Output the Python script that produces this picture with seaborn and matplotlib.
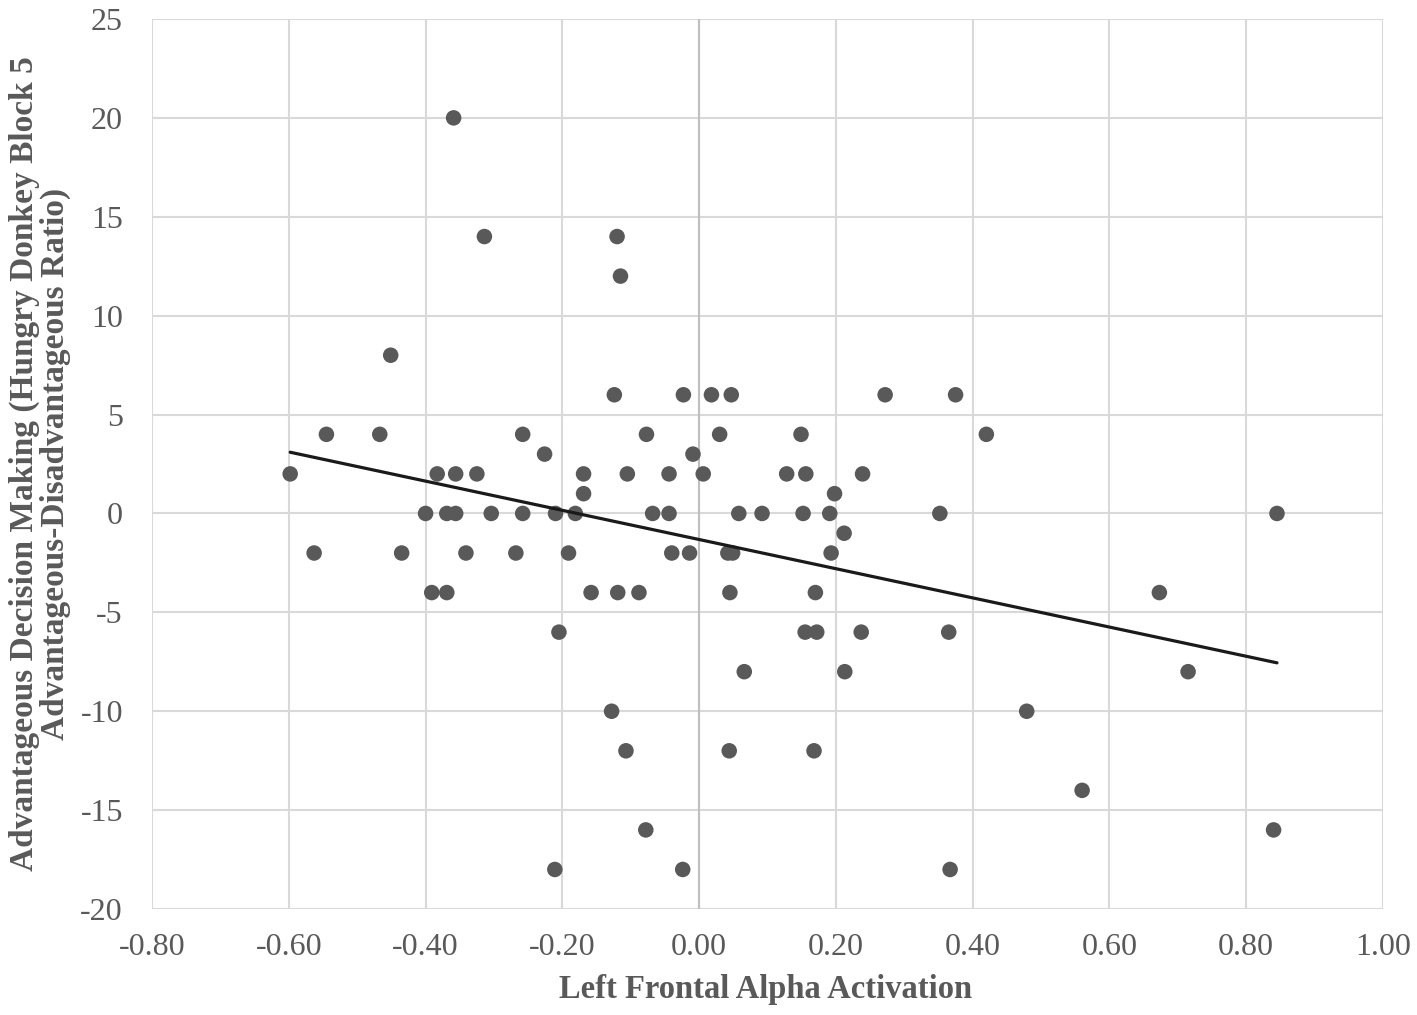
import pandas as pd
import seaborn as sns
import matplotlib.pyplot as plt

# Left frontal alpha activation (x) and advantageous decision score (y)
alpha = [-0.598, -0.563, -0.545, -0.467, -0.451, -0.435, -0.400, -0.391, -0.383, -0.369,
         -0.369, -0.359, -0.356, -0.356, -0.341, -0.325, -0.314, -0.304, -0.268, -0.258,
         -0.258, -0.226, -0.211, -0.210, -0.205, -0.191, -0.181, -0.169, -0.169, -0.158,
         -0.128, -0.124, -0.120, -0.119, -0.115, -0.107, -0.105, -0.088, -0.078, -0.077,
         -0.068, -0.044, -0.044, -0.040, -0.024, -0.023, -0.014, -0.009, 0.006, 0.018,
         0.030, 0.042, 0.049, 0.045, 0.044, 0.047, 0.058, 0.066, 0.092, 0.128,
         0.149, 0.152, 0.155, 0.156, 0.168, 0.170, 0.172, 0.191, 0.193, 0.198,
         0.212, 0.213, 0.237, 0.239, 0.272, 0.352, 0.365, 0.367, 0.375, 0.420,
         0.479, 0.560, 0.673, 0.715, 0.840, 0.845]
score = [2, -2, 4, 4, 8, -2, 0, -4, 2, 0,
         -4, 20, 2, 0, -2, 2, 14, 0, -2, 4,
         0, 3, -18, 0, -6, -2, 0, 2, 1, -4,
         -10, 6, 14, -4, 12, -12, 2, -4, -16, 4,
         0, 2, 0, -2, -18, 6, -2, 3, 2, 6,
         4, -2, -2, -4, -12, 6, 0, -8, 0, 2,
         4, 0, -6, 2, -12, -4, -6, 0, -2, 1,
         -1, -8, -6, 2, 6, 0, -6, -18, 6, 4,
         -10, -14, -4, -8, -16, 0]

x_ticks = [-0.8, -0.6, -0.4, -0.2, 0.0, 0.2, 0.4, 0.6, 0.8, 1.0]
y_ticks = [-20, -15, -10, -5, 0, 5, 10, 15, 20, 25]

df = pd.DataFrame({'alpha': alpha, 'score': score})

sns.set_style("white")
plt.rcParams['font.family'] = ['Liberation Serif', 'DejaVu Serif']

fig = plt.figure(figsize=(14.17, 10.15), dpi=100)
ax = fig.add_axes([0.1073, 0.1044, 0.8687, 0.8769])

# Gridlines like the spreadsheet chart
for xv in x_ticks:
    ax.axvline(xv, color='#d9d9d9', lw=1.5, zorder=0)
for yv in y_ticks:
    ax.axhline(yv, color='#d9d9d9', lw=1.5, zorder=0)
ax.axvline(0, color='#bfbfbf', lw=1.5, zorder=0)

sns.regplot(data=df, x='alpha', y='score', ci=None, ax=ax,
            scatter_kws={'s': 125, 'color': '#595959', 'edgecolor': 'none', 'alpha': 1, 'zorder': 3},
            line_kws={'color': '#1a1a1a', 'lw': 2.3, 'zorder': 4})

ax.set_xlim(-0.8, 1.0)
ax.set_ylim(-20, 25)
ax.set_xticks(x_ticks)
ax.set_xticklabels([f'{v:.2f}' for v in x_ticks])
ax.set_yticks(y_ticks)
ax.set_yticklabels([str(v) for v in y_ticks])
ax.tick_params(axis='both', length=0, labelsize=23, labelcolor='#595959')
ax.tick_params(axis='x', pad=17)
ax.tick_params(axis='y', pad=21)

for s in ax.spines.values():
    s.set_visible(False)

ax.set_xlabel('Left Frontal Alpha Activation', fontsize=23.5, fontweight='bold',
              color='#595959')
ax.set_ylabel('Advantageous Decision Making (Hungry Donkey Block 5\n'
              'Advantageous-Disadvantageous Ratio)', fontsize=24, fontweight='bold',
              color='#595959', linespacing=0.97)
ax.xaxis.set_label_coords(0.4988, -0.073)
ax.yaxis.set_label_coords(-0.066, 0.5)

fig.savefig('out.png', dpi=100)
